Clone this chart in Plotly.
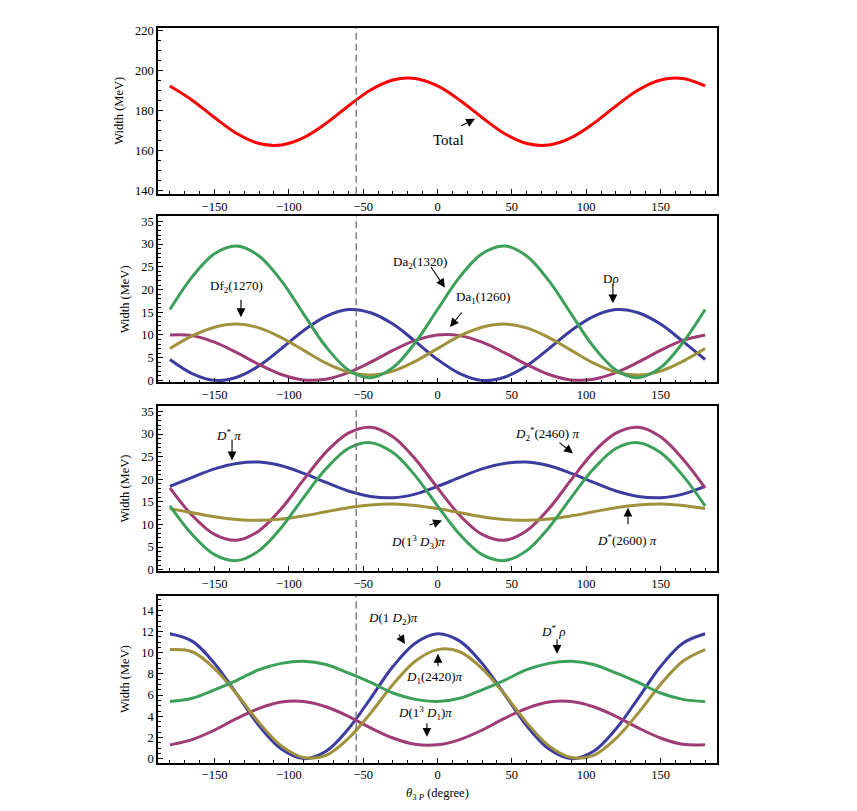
import plotly.graph_objects as go

theta = [-180, -165, -150, -135, -120, -105, -90, -75, -60, -45, -30, -15, 0,
         15, 30, 45, 60, 75, 90, 105, 120, 135, 150, 165, 180]

# Panel 1
total = [192.3, 185.2, 176.5, 168.5, 163.5, 162.8, 166.5, 173.6, 182.3, 190.3, 195.3, 196.0, 192.3,
         185.2, 176.5, 168.5, 163.5, 162.8, 166.5, 173.6, 182.3, 190.3, 195.3, 196.0, 192.3]

# Panel 2
d_rho = [4.6, 1.5, 0.0, 0.7, 3.2, 7.0, 11.0, 14.1, 15.6, 14.9, 12.4, 8.6, 4.6,
         1.5, 0.0, 0.7, 3.2, 7.0, 11.0, 14.1, 15.6, 14.9, 12.4, 8.6, 4.6]
da1_1260 = [10.0, 9.85, 8.4, 6.1, 3.5, 1.3, 0.1, 0.25, 1.7, 4.0, 6.6, 8.8, 10.0,
            9.85, 8.4, 6.1, 3.5, 1.3, 0.1, 0.25, 1.7, 4.0, 6.6, 8.8, 10.0]
df2_1270 = [7.0, 9.8, 11.7, 12.4, 11.55, 9.4, 6.6, 3.8, 1.85, 1.2, 2.05, 4.2, 7.0,
            9.8, 11.7, 12.4, 11.55, 9.4, 6.6, 3.8, 1.85, 1.2, 2.05, 4.2, 7.0]
da2_1320 = [15.6, 22.8, 27.9, 29.6, 27.4, 21.9, 14.6, 7.4, 2.3, 0.6, 2.8, 8.3, 15.6,
            22.8, 27.9, 29.6, 27.4, 21.9, 14.6, 7.4, 2.3, 0.6, 2.8, 8.3, 15.6]

# Panel 3
dstar_pi = [18.4, 20.4, 22.3, 23.5, 23.8, 23.0, 21.3, 19.3, 17.4, 16.2, 15.9, 16.7, 18.4,
            20.4, 22.3, 23.5, 23.8, 23.0, 21.3, 19.3, 17.4, 16.2, 15.9, 16.7, 18.4]
d2star2460_pi = [18.1, 12.0, 7.8, 6.5, 8.6, 13.5, 19.9, 26.0, 30.2, 31.5, 29.4, 24.5, 18.1,
                 12.0, 7.8, 6.5, 8.6, 13.5, 19.9, 26.0, 30.2, 31.5, 29.4, 24.5, 18.1]
d13d3_pi = [14.1, 7.75, 3.3, 2.0, 4.2, 9.3, 16.0, 22.3, 26.8, 28.1, 25.9, 20.8, 14.1,
            7.75, 3.3, 2.0, 4.2, 9.3, 16.0, 22.3, 26.8, 28.1, 25.9, 20.8, 14.1]
dstar2600_pi = [13.5, 12.6, 11.7, 11.1, 10.9, 11.2, 11.9, 12.8, 13.7, 14.3, 14.5, 14.2, 13.5,
                12.6, 11.7, 11.1, 10.9, 11.2, 11.9, 12.8, 13.7, 14.3, 14.5, 14.2, 13.5]

# Panel 4
d1d2_pi = [11.8, 11.1, 9.0, 6.1, 3.1, 0.9, 0.0, 0.7, 2.8, 5.7, 8.7, 10.9, 11.8,
           11.1, 9.0, 6.1, 3.1, 0.9, 0.0, 0.7, 2.8, 5.7, 8.7, 10.9, 11.8]
d13d1_pi = [1.3, 1.8, 2.7, 3.8, 4.75, 5.35, 5.4, 4.9, 4.0, 2.9, 1.95, 1.35, 1.3,
            1.8, 2.7, 3.8, 4.75, 5.35, 5.4, 4.9, 4.0, 2.9, 1.95, 1.35, 1.3]
d1_2420_pi = [10.3, 10.1, 8.5, 6.1, 3.4, 1.2, 0.1, 0.3, 1.9, 4.3, 7.0, 9.2, 10.3,
              10.1, 8.5, 6.1, 3.4, 1.2, 0.1, 0.3, 1.9, 4.3, 7.0, 9.2, 10.3]
dstar_rho = [5.4, 5.7, 6.5, 7.4, 8.4, 9.0, 9.2, 8.9, 8.1, 7.2, 6.2, 5.6, 5.4,
             5.7, 6.5, 7.4, 8.4, 9.0, 9.2, 8.9, 8.1, 7.2, 6.2, 5.6, 5.4]

ideal_angle = -54.7

RED = "#ff0000"
BLUE = "#3c3ca0"
MAG = "#a03c75"
OLIVE = "#a0913c"
GREEN = "#3ca05a"

FONT = "Liberation Serif"
W, H = 841, 803
XDOM = [150 / W, 709 / W]


def ydom(top, bottom):
    return [1 - bottom / H, 1 - top / H]


panels = [
    dict(series=[(total, RED)], yrange=[138.4, 221.4], dtick=20, minor=5, dom=ydom(16, 184)),
    dict(series=[(d_rho, BLUE), (da1_1260, MAG), (df2_1270, OLIVE), (da2_1320, GREEN)],
         yrange=[-0.43, 36.1], dtick=5, minor=1, dom=ydom(207, 375)),
    dict(series=[(dstar_pi, BLUE), (d2star2460_pi, MAG), (dstar2600_pi, OLIVE), (d13d3_pi, GREEN)],
         yrange=[-0.3, 36.2], dtick=5, minor=1, dom=ydom(399, 566)),
    dict(series=[(d1d2_pi, BLUE), (d13d1_pi, MAG), (d1_2420_pi, OLIVE), (dstar_rho, GREEN)],
         yrange=[-0.37, 15.4], dtick=2, minor=0.5, dom=ydom(591, 760)),
]

fig = go.Figure()
layout = {}
shapes = []
for i, p in enumerate(panels, start=1):
    xa = "x" if i == 1 else f"x{i}"
    ya = "y" if i == 1 else f"y{i}"
    for vals, col in p["series"]:
        fig.add_trace(go.Scatter(x=theta, y=vals, mode="lines", xaxis=xa, yaxis=ya,
                                 line=dict(color=col, width=3, shape="spline", smoothing=1.0),
                                 showlegend=False, hoverinfo="skip"))
    xkey = "xaxis" if i == 1 else f"xaxis{i}"
    ykey = "yaxis" if i == 1 else f"yaxis{i}"
    layout[xkey] = dict(domain=XDOM, range=[-188, 188], anchor=ya,
                        showline=True, mirror=True, linecolor="black", linewidth=1.6,
                        ticks="inside", ticklen=5, tickwidth=1.2, tickcolor="black",
                        tick0=0, dtick=50, showgrid=False, zeroline=False,
                        minor=dict(ticks="inside", ticklen=3, tickwidth=1, tickcolor="black",
                                   tick0=0, dtick=10, showgrid=False),
                        tickfont=dict(family=FONT, size=12.5, color="black"))
    layout[ykey] = dict(domain=p["dom"], range=p["yrange"], anchor=xa,
                        showline=True, mirror=True, linecolor="black", linewidth=1.6,
                        ticks="inside", ticklen=5, tickwidth=1.2, tickcolor="black",
                        tick0=0, dtick=p["dtick"], showgrid=False, zeroline=False,
                        minor=dict(ticks="inside", ticklen=3, tickwidth=1, tickcolor="black",
                                   tick0=0, dtick=p["minor"], showgrid=False),
                        tickfont=dict(family=FONT, size=12.5, color="black"),
                        title=dict(text="Width (MeV)", font=dict(family=FONT, size=12.5, color="black"),
                                   standoff=9))
    shapes.append(dict(type="line", xref=xa, yref=f"{ya} domain", x0=ideal_angle, x1=ideal_angle,
                       y0=0, y1=1, line=dict(color="#6e6e6e", width=1.3, dash="7px,4px")))

# annotations: (axis index, text, tx, ty, hx, hy, ax, ay, size)
labels = [
    (1, "Total", 7.1, 165.1, 25.2, 175.95, -15, 8, 15),
    (2, "Df<sub>2</sub>(1270)", -134.9, 20.66, -132.2, 13.92, 0, -19, 13),
    (2, "Da<sub>2</sub>(1320)", -11.8, 25.9, 5.0, 20.44, -15, -22, 13),
    (2, "Da<sub>1</sub>(1260)", 30.6, 18.27, 8.4, 11.75, 13, -16, 13),
    (2, "D<i>ρ</i>", 116.7, 22.4, 118.0, 16.97, 0, -20, 13),
    (3, "<i>D</i><sup>*</sup> <i>π</i>", -140.9, 29.86, -138.2, 24.18, 0, -22, 13),
    (3, "<i>D</i>(1<sup>3</sup> <i>D</i><sub>3</sub>)<i>π</i>", -13.1, 6.04, 3.0, 10.85, -14, 5, 13),
    (3, "<i>D</i><sub>2</sub><sup>*</sup>(2460) <i>π</i>", 73.7, 30.08, 91.1, 25.71, -15, -12, 13),
    (3, "<i>D</i><sup>*</sup>(2600) <i>π</i>", 127.5, 6.48, 128.1, 13.69, 0, 18, 13),
    (4, "<i>D</i>(1 <i>D</i><sub>2</sub>)<i>π</i>", -29.9, 13.25, -21.9, 10.83, -7, -11, 13),
    (4, "<i>D</i><sub>1</sub>(2420)<i>π</i>", -1.7, 7.66, 0.3, 9.9, 0, 14, 13),
    (4, "<i>D</i>(1<sup>3</sup> <i>D</i><sub>1</sub>)<i>π</i>", -8.4, 4.3, -7.1, 2.06, 0, -15, 13),
    (4, "<i>D</i><sup>*</sup> <i>ρ</i>", 77.7, 12.04, 80.4, 9.9, 0, -16, 13),
]
annotations = []
for idx, txt, tx, ty, hx, hy, axp, ayp, fs in labels:
    xa = "x" if idx == 1 else f"x{idx}"
    ya = "y" if idx == 1 else f"y{idx}"
    annotations.append(dict(xref=xa, yref=ya, x=tx, y=ty, text=txt, showarrow=False,
                            font=dict(family=FONT, size=fs, color="black")))
    annotations.append(dict(xref=xa, yref=ya, x=hx, y=hy, text="", showarrow=True,
                            ax=axp, ay=ayp, axref="pixel", ayref="pixel",
                            arrowhead=2, arrowsize=1.6, arrowwidth=1.1, arrowcolor="black"))

annotations.append(dict(xref="paper", yref="paper", x=429 / W, y=1 - 792 / H,
                        xanchor="center", yanchor="middle",
                        text="<i>θ</i><sub>3 <i>P</i></sub> (degree)", showarrow=False,
                        font=dict(family=FONT, size=12.5, color="black")))

fig.update_layout(width=W, height=H, margin=dict(l=0, r=0, t=0, b=0),
                  paper_bgcolor="white", plot_bgcolor="white",
                  shapes=shapes, annotations=annotations, **layout)

fig.write_html("out.html")
